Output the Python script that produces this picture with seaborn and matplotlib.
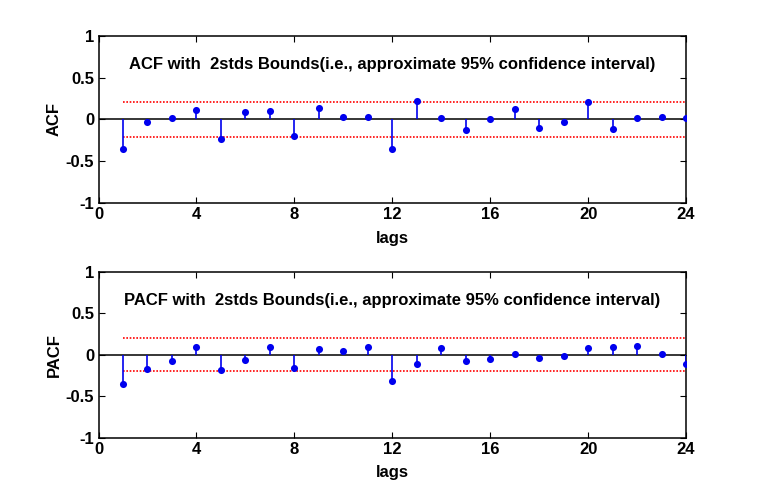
import numpy as np
import pandas as pd
import matplotlib
matplotlib.use("Agg")
import matplotlib.pyplot as plt
import seaborn as sns

lags = list(range(1, 25))
acf_vals = [-0.35, -0.036, 0.012, 0.108, -0.24, 0.088, 0.10, -0.204, 0.136, 0.028, 0.028, -0.356,
            0.216, 0.02, -0.124, 0.008, 0.124, -0.104, -0.032, 0.212, -0.12, 0.012, 0.032, 0.016]
pacf_vals = [-0.352, -0.176, -0.076, 0.10, -0.184, -0.064, 0.092, -0.164, 0.072, 0.04, 0.088, -0.32,
             -0.112, 0.08, -0.072, -0.056, 0.004, -0.036, -0.012, 0.084, 0.088, 0.104, 0.004, -0.112]
acf_bound = 0.214
pacf_bound = 0.198
xticks = [0, 4, 8, 12, 16, 20, 24]
yticks = [-1, -0.5, 0, 0.5, 1]
ytick_labels = ["-1", "-0.5", "0", "0.5", "1"]
titles = ["ACF with  2stds Bounds(i.e., approximate 95% confidence interval)",
          "PACF with  2stds Bounds(i.e., approximate 95% confidence interval)"]
ylabels = ["ACF", "PACF"]

sns.set_style("ticks")
plt.rcParams['font.family'] = ['Liberation Sans', 'DejaVu Sans']
plt.rcParams['font.weight'] = 'bold'
for k in ['text.color', 'axes.labelcolor', 'xtick.color', 'ytick.color', 'axes.edgecolor']:
    plt.rcParams[k] = 'black'

fig = plt.figure(figsize=(7.58, 4.96), dpi=100)
fig.patch.set_facecolor('white')
ax1 = fig.add_axes([0.13, 0.5907, 0.775, 0.337])
ax2 = fig.add_axes([0.13, 0.1177, 0.775, 0.334])

for ax, vals, bound, title, ylab in [(ax1, acf_vals, acf_bound, titles[0], ylabels[0]),
                                      (ax2, pacf_vals, pacf_bound, titles[1], ylabels[1])]:
    df = pd.DataFrame({"lag": lags, "val": vals})
    ax.axhline(0, color='black', lw=1.1, zorder=2)
    ax.vlines(df["lag"], 0, df["val"], color='#0000ee', lw=1.2, zorder=3)
    sns.scatterplot(data=df, x="lag", y="val", ax=ax, color='#0000ee', s=26,
                    edgecolor='#0000ee', linewidth=0, zorder=4, legend=False)
    bdf = pd.DataFrame({"lag": [lags[0], lags[-1]], "up": [bound, bound], "lo": [-bound, -bound]})
    sns.lineplot(data=bdf, x="lag", y="up", ax=ax, color='red', lw=1.2, linestyle=(0, (1, 1)))
    sns.lineplot(data=bdf, x="lag", y="lo", ax=ax, color='red', lw=1.2, linestyle=(0, (1, 1)))
    ax.set_xlim(0, 24)
    ax.set_ylim(-1, 1)
    ax.set_xticks(xticks)
    ax.set_xticklabels([str(t) for t in xticks], fontsize=12, fontweight='bold')
    ax.set_yticks(yticks)
    ax.set_yticklabels(ytick_labels, fontsize=12, fontweight='bold')
    ax.tick_params(direction='in', length=4, width=0.8, top=True, right=True, pad=3)
    for s in ax.spines.values():
        s.set_visible(True)
        s.set_linewidth(1.1)
        s.set_color('black')
    ax.set_xlabel("lags", fontsize=12, fontweight='bold', labelpad=6)
    ax.set_ylabel(ylab, fontsize=12, fontweight='bold', labelpad=3)
    ax.text(12, 0.655, title, ha='center', va='center', fontsize=12, fontweight='bold')

fig.savefig("out.png", dpi=100, facecolor='white')
